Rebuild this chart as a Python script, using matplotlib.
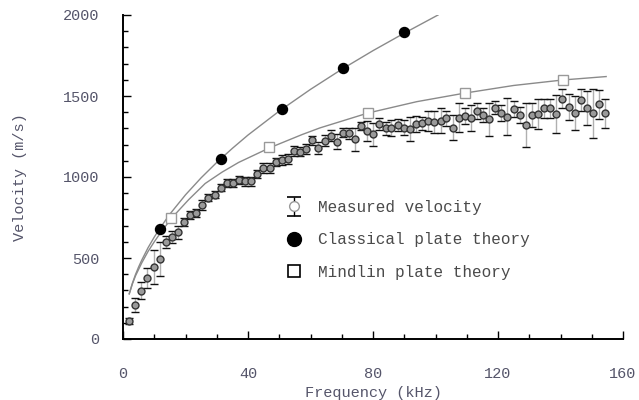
import matplotlib
matplotlib.use("Agg")
import matplotlib.pyplot as plt
from matplotlib.ticker import MultipleLocator
from matplotlib.lines import Line2D
from matplotlib.collections import LineCollection
from matplotlib.container import ErrorbarContainer
from matplotlib.legend_handler import HandlerErrorbar

# ---------------- data ----------------
freq = [2.0, 3.9, 5.9, 7.8, 9.8, 11.7, 13.7, 15.6, 17.6, 19.5,
        21.5, 23.4, 25.4, 27.3, 29.3, 31.2, 33.2, 35.2, 37.1, 39.1,
        41.0, 43.0, 44.9, 46.9, 48.8, 50.8, 52.7, 54.7, 56.6, 58.6,
        60.5, 62.5, 64.5, 66.4, 68.4, 70.3, 72.3, 74.2, 76.2, 78.1,
        80.1, 82.0, 84.0, 85.9, 87.9, 89.8, 91.8, 93.7, 95.7, 97.7,
        99.6, 101.6, 103.5, 105.5, 107.4, 109.4, 111.3, 113.3, 115.2, 117.2,
        119.1, 121.1, 123.0, 125.0, 127.0, 128.9, 130.9, 132.8, 134.8, 136.7,
        138.7, 140.6, 142.6, 144.5, 146.5, 148.4, 150.4, 152.3, 154.3]
velocity = [111, 210, 299, 376, 442, 494, 599, 630, 660, 720,
            765, 777, 826, 873, 891, 935, 964, 964, 983, 973,
            973, 1018, 1054, 1054, 1093, 1105, 1111, 1160, 1157, 1173,
            1226, 1181, 1224, 1255, 1218, 1274, 1270, 1233, 1315, 1284,
            1263, 1327, 1300, 1304, 1321, 1304, 1296, 1325, 1331, 1346,
            1341, 1346, 1362, 1304, 1366, 1378, 1366, 1407, 1383, 1356,
            1428, 1397, 1372, 1418, 1383, 1321, 1381, 1389, 1424, 1424,
            1389, 1483, 1434, 1393, 1475, 1428, 1393, 1449, 1393]
vel_err = [20, 45, 50, 60, 105, 105, 35, 35, 40, 25,
           25, 25, 30, 20, 20, 20, 25, 25, 25, 30,
           30, 25, 30, 30, 25, 30, 30, 30, 30, 30,
           30, 38, 35, 35, 46, 30, 35, 72, 25, 60,
           72, 35, 40, 50, 40, 45, 72, 50, 40, 60,
           68, 77, 45, 77, 90, 50, 80, 50, 45, 103,
           40, 50, 115, 50, 50, 134, 75, 90, 60, 60,
           117, 60, 80, 105, 70, 105, 150, 90, 90]

# classical plate theory curve and markers
classical_f = [2, 3, 4, 5, 6, 8, 10, 12, 15, 20, 25, 30, 35, 40, 50,
               60, 70, 80, 90, 100.8]
classical_v = [280, 344, 398, 445, 487, 563, 629, 689, 771, 890, 995,
               1090, 1177, 1259, 1407, 1541, 1665, 1780, 1888, 2000]
classical_mf = [11.8, 31.4, 50.9, 70.4, 89.9]
classical_mv = [679, 1111, 1420, 1673, 1895]

# Mindlin plate theory curve and markers
mindlin_f = [2.0, 3, 4, 6, 8, 10, 12, 15.5, 21, 26.3, 31.7, 37, 46.9,
             57.3, 63, 78.4, 94, 109.4, 125, 140.8, 154.6]
mindlin_v = [278, 340, 390, 470, 540, 600, 655, 745, 860, 960, 1030,
             1090, 1180, 1262, 1303, 1395, 1465, 1518, 1565, 1599, 1620]
mindlin_mf = [15.5, 46.7, 78.4, 109.4, 140.8]
mindlin_mv = [750, 1183, 1395, 1518, 1599]

x_ticks = [0, 40, 80, 120, 160]
y_ticks = [0, 500, 1000, 1500, 2000]
legend_labels = ["Measured velocity", "Classical plate theory",
                 "Mindlin plate theory"]

# ---------------- figure ----------------
FONT = ["Liberation Mono", "DejaVu Sans Mono"]
plt.rcParams["font.family"] = FONT
TXT = "#55556a"

fig = plt.figure(figsize=(6.39, 4.0), dpi=100)
ax = fig.add_axes([0.1925, 0.1525, 0.7825, 0.81])

line_grey = "#8a8a8a"
ax.plot(classical_f, classical_v, color=line_grey, lw=1.0, zorder=2)
ax.plot(mindlin_f, mindlin_v, color=line_grey, lw=1.0, zorder=2)

ax.plot(mindlin_mf, mindlin_mv, "s", ms=6.5, mfc="white", mec="#999999",
        mew=1.0, zorder=2.5)

eb = ax.errorbar(freq, velocity, yerr=vel_err, fmt="o", ms=5,
                 mfc="#9a9a9a", mec="#333333", mew=1.0,
                 ecolor="#b0b0b0", elinewidth=1.0, capsize=2.8,
                 capthick=1.3, zorder=3)
for cap in eb[1]:
    cap.set_color("#111111")
    cap.set_markeredgecolor("#111111")
    cap.set_markerfacecolor("#111111")

ax.plot(classical_mf, classical_mv, "o", ms=7.2, color="black", zorder=4)

ax.set_xlim(0, 160)
ax.set_ylim(0, 2000)
ax.set_xticks(x_ticks)
ax.set_yticks(y_ticks)
ax.xaxis.set_minor_locator(MultipleLocator(10))
ax.yaxis.set_minor_locator(MultipleLocator(100))
ax.tick_params(which="major", direction="in", length=6, width=1.0,
               labelsize=11, labelcolor=TXT)
ax.tick_params(axis="x", which="major", pad=20)
ax.tick_params(axis="y", which="major", pad=17)
ax.tick_params(which="minor", direction="in", length=3.5, width=1.0)
for s in ["top", "right"]:
    ax.spines[s].set_visible(False)
for s in ["left", "bottom"]:
    ax.spines[s].set_linewidth(1.4)

ax.set_xlabel("Frequency (kHz)", fontsize=11, color=TXT, labelpad=4)
ax.set_ylabel("Velocity (m/s)", fontsize=11, color=TXT, labelpad=26)

# legend handles
h_line = Line2D([], [], ls="none", marker="o", ms=7, mfc="white",
                mec="#999999", mew=1.0)
h_caps = (Line2D([], [], ls="none", marker="_", ms=10, color="black",
                 mew=1.2),) * 2
h_bar = LineCollection([], colors="black", linewidths=1.0)
h_meas = ErrorbarContainer((h_line, h_caps, (h_bar,)),
                           has_xerr=False, has_yerr=True)
h_cl = Line2D([], [], ls="none", marker="o", ms=10, color="black")
h_mi = Line2D([], [], ls="none", marker="s", ms=9, mfc="white",
              mec="black", mew=1.2)
leg = ax.legend([h_meas, h_cl, h_mi], legend_labels,
                loc="upper left", bbox_to_anchor=(0.295, 0.474),
                frameon=False, fontsize=11.5, handlelength=1.2,
                handletextpad=0.9, labelspacing=1.1,
                handler_map={ErrorbarContainer: HandlerErrorbar(yerr_size=0.6)})
for t in leg.get_texts():
    t.set_color("#4a4a4a")

fig.savefig("out.png", dpi=100)
